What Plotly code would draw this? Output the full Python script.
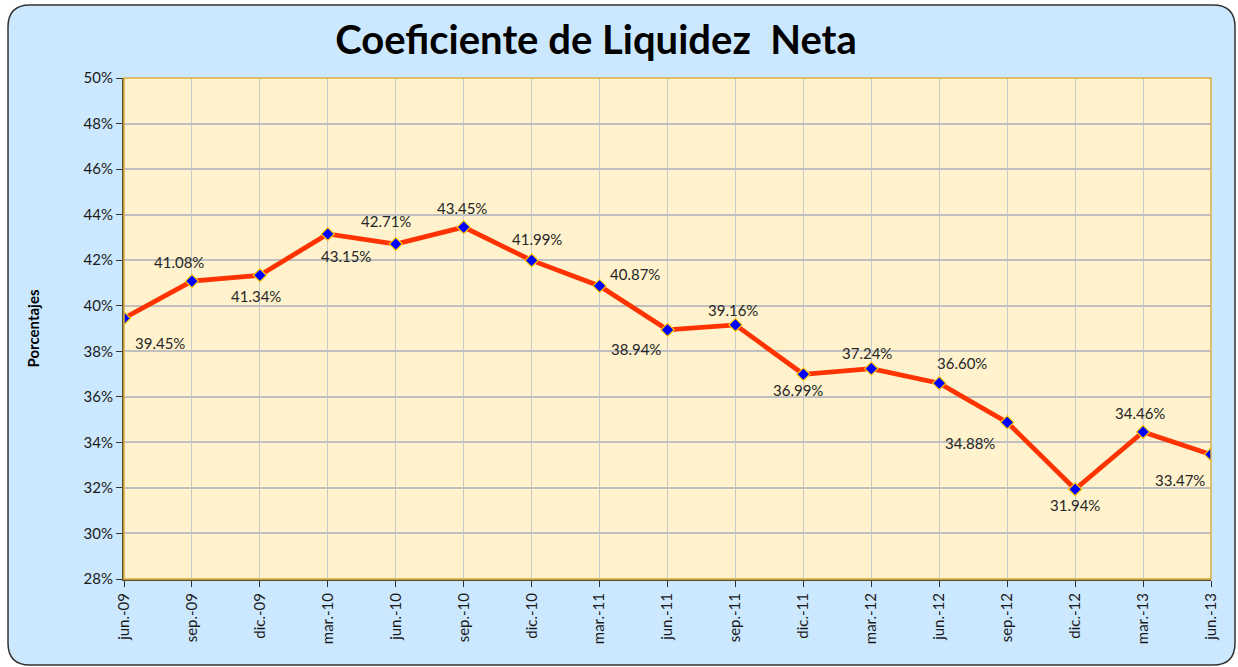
import plotly.graph_objects as go

categories = ["jun.-09", "sep.-09", "dic.-09", "mar.-10", "jun.-10", "sep.-10", "dic.-10",
              "mar.-11", "jun.-11", "sep.-11", "dic.-11", "mar.-12", "jun.-12", "sep.-12",
              "dic.-12", "mar.-13", "jun.-13"]
values = [39.45, 41.08, 41.34, 43.15, 42.71, 43.45, 41.99, 40.87, 38.94, 39.16, 36.99,
          37.24, 36.60, 34.88, 31.94, 34.46, 33.47]
# label offsets (pixels): dx right, dy down
label_dx = [36, -13, -4, 18, -10, -2, 5, 35, -32, -2, -5, -4, 23, -37, 0, -3, -31]
label_dy = [25, -19, 21, 22, -23, -19, -21, -12, 19, -15, 16, -16, -20, 21, 16, -19, 26]
y_ticks = list(range(28, 51, 2))

W, H = 1238, 667
L, R, T, B = 124, 27, 78, 88
pw, ph = W - L - R, H - T - B

def px(x):
    return (x - L) / pw

def py(y):
    return (H - B - y) / ph

FONT = "Lato"

fig = go.Figure()
fig.add_trace(go.Scatter(
    x=categories, y=values, mode="lines+markers",
    line=dict(color="#FF3300", width=4.8),
    marker=dict(symbol="diamond", size=10, color="#0000FF",
                line=dict(color="#FFCC00", width=1.2)),
    hoverinfo="skip", showlegend=False,
))

for c, v, dx, dy in zip(categories, values, label_dx, label_dy):
    fig.add_annotation(x=c, y=v, text=f"{v:.2f}%", showarrow=False,
                       xshift=dx, yshift=-dy,
                       font=dict(family=FONT, size=15, color="#262626"))

# rounded background
x0, x1, y0, y1, r = 8, 1235, 5, 665, 22
path = (f"M {px(x0+r)},{py(y0)} L {px(x1-r)},{py(y0)} Q {px(x1)},{py(y0)} {px(x1)},{py(y0+r)} "
        f"L {px(x1)},{py(y1-r)} Q {px(x1)},{py(y1)} {px(x1-r)},{py(y1)} "
        f"L {px(x0+r)},{py(y1)} Q {px(x0)},{py(y1)} {px(x0)},{py(y1-r)} "
        f"L {px(x0)},{py(y0+r)} Q {px(x0)},{py(y0)} {px(x0+r)},{py(y0)} Z")
fig.add_shape(type="path", path=path, xref="paper", yref="paper",
              fillcolor="#CCE8FF", line=dict(color="#333333", width=1.5), layer="below")
# plot area fill
fig.add_shape(type="rect", x0=0, x1=1, y0=0, y1=1, xref="paper", yref="paper",
              fillcolor="#FFF2CC", line=dict(width=0), layer="below")
# gold plot border (top / right)
fig.add_shape(type="rect", x0=0, x1=1, y0=0, y1=1, xref="paper", yref="paper",
              line=dict(color="#DDB040", width=1.5), layer="above")

fig.update_layout(
    width=W, height=H,
    margin=dict(l=L, r=R, t=T, b=B),
    paper_bgcolor="white",
    plot_bgcolor="#FFF2CC",
    title=dict(text="<b>Coeficiente de Liquidez  Neta</b>", x=px(596), xref="paper",
               xanchor="center", y=1 - 40 / H, yanchor="middle",
               font=dict(family=FONT, size=40, color="black")),
    xaxis=dict(type="category", range=[0, len(categories) - 1],
               tickangle=-90, tickfont=dict(family=FONT, size=15, color="#1a1a1a"),
               showgrid=True, gridcolor="#C8C8C8", gridwidth=1,
               showline=True, linecolor="#5A5030", linewidth=2,
               ticks="outside", ticklen=6, tickcolor="#333333", mirror=False),
    yaxis=dict(range=[28, 50], tickvals=y_ticks, ticktext=[f"{t}%" for t in y_ticks],
               tickfont=dict(family=FONT, size=15, color="#1a1a1a"),
               showgrid=True, gridcolor="#BFBFBF", gridwidth=2,
               showline=True, linecolor="#5A5030", linewidth=2,
               ticks="outside", ticklen=6, tickcolor="#333333",
               title=dict(text="<b>Porcentajes</b>", standoff=40,
                          font=dict(family=FONT, size=15, color="black"))),
)

fig.write_html("out.html", config={"displayModeBar": False},
               post_script="document.body.style.margin='0';document.body.style.overflow='hidden';")
